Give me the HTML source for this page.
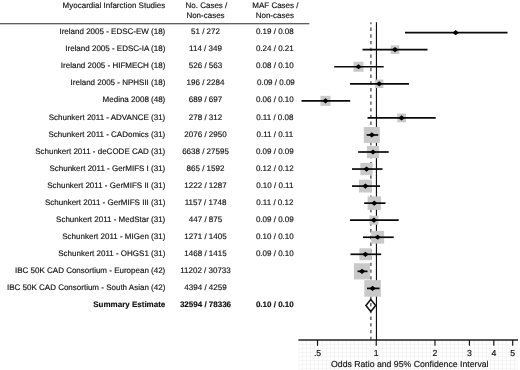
<!DOCTYPE html><html><head><meta charset="utf-8"><title>Forest plot</title>
<style>html,body{margin:0;padding:0;background:#fff;overflow:hidden}svg{display:block}text{font-family:"Liberation Sans",Arial,sans-serif;fill:#111;stroke:#111;stroke-width:0.15px;text-rendering:geometricPrecision}</style></head><body>
<svg width="520" height="370" viewBox="0 0 520 370">
<rect width="520" height="370" fill="#fff"/>
<g font-size="8.0">
<text x="165.3" y="8.3" text-anchor="end">Myocardial Infarction Studies</text>
<text x="206.4" y="8.3" text-anchor="middle">No. Cases /</text>
<text x="205.5" y="18.2" text-anchor="middle">Non-cases</text>
<text x="275.4" y="8.3" text-anchor="middle">MAF Cases /</text>
<text x="274.8" y="18.2" text-anchor="middle">Non-cases</text>
<text x="165.3" y="34.25" text-anchor="end">Ireland 2005 - EDSC-EW (18)</text>
<text x="205.5" y="34.25" text-anchor="middle">51 / 272</text>
<text x="274.8" y="34.25" text-anchor="middle">0.19 / 0.08</text>
<text x="165.3" y="51.30" text-anchor="end">Ireland 2005 - EDSC-IA (18)</text>
<text x="205.5" y="51.30" text-anchor="middle">114 / 349</text>
<text x="274.8" y="51.30" text-anchor="middle">0.24 / 0.21</text>
<text x="165.3" y="68.35" text-anchor="end">Ireland 2005 - HIFMECH (18)</text>
<text x="205.5" y="68.35" text-anchor="middle">526 / 563</text>
<text x="274.8" y="68.35" text-anchor="middle">0.08 / 0.10</text>
<text x="165.3" y="85.40" text-anchor="end">Ireland 2005 - NPHSII (18)</text>
<text x="205.5" y="85.40" text-anchor="middle">196 / 2284</text>
<text x="275.9" y="85.40" text-anchor="middle">0.09 / 0.09</text>
<text x="165.3" y="102.45" text-anchor="end">Medina 2008 (48)</text>
<text x="205.5" y="102.45" text-anchor="middle">689 / 697</text>
<text x="274.8" y="102.45" text-anchor="middle">0.06 / 0.10</text>
<text x="165.3" y="119.50" text-anchor="end">Schunkert 2011 - ADVANCE (31)</text>
<text x="205.5" y="119.50" text-anchor="middle">278 / 312</text>
<text x="274.8" y="119.50" text-anchor="middle">0.11 / 0.08</text>
<text x="165.3" y="136.55" text-anchor="end">Schunkert 2011 - CADomics (31)</text>
<text x="205.5" y="136.55" text-anchor="middle">2076 / 2950</text>
<text x="274.8" y="136.55" text-anchor="middle">0.11 / 0.11</text>
<text x="165.3" y="153.60" text-anchor="end">Schunkert 2011 - deCODE CAD (31)</text>
<text x="205.5" y="153.60" text-anchor="middle">6638 / 27595</text>
<text x="274.8" y="153.60" text-anchor="middle">0.09 / 0.09</text>
<text x="165.3" y="170.65" text-anchor="end">Schunkert 2011 - GerMIFS I (31)</text>
<text x="205.5" y="170.65" text-anchor="middle">865 / 1592</text>
<text x="274.8" y="170.65" text-anchor="middle">0.12 / 0.12</text>
<text x="165.3" y="187.70" text-anchor="end">Schunkert 2011 - GerMIFS II (31)</text>
<text x="205.5" y="187.70" text-anchor="middle">1222 / 1287</text>
<text x="274.8" y="187.70" text-anchor="middle">0.10 / 0.11</text>
<text x="165.3" y="204.75" text-anchor="end">Schunkert 2011 - GerMIFS III (31)</text>
<text x="205.5" y="204.75" text-anchor="middle">1157 / 1748</text>
<text x="274.8" y="204.75" text-anchor="middle">0.11 / 0.12</text>
<text x="165.3" y="221.80" text-anchor="end">Schunkert 2011 - MedStar (31)</text>
<text x="205.5" y="221.80" text-anchor="middle">447 / 875</text>
<text x="274.8" y="221.80" text-anchor="middle">0.09 / 0.09</text>
<text x="165.3" y="238.85" text-anchor="end">Schunkert 2011 - MIGen (31)</text>
<text x="205.5" y="238.85" text-anchor="middle">1271 / 1405</text>
<text x="274.8" y="238.85" text-anchor="middle">0.10 / 0.10</text>
<text x="165.3" y="255.90" text-anchor="end">Schunkert 2011 - OHGS1 (31)</text>
<text x="205.5" y="255.90" text-anchor="middle">1468 / 1415</text>
<text x="274.8" y="255.90" text-anchor="middle">0.09 / 0.10</text>
<text x="165.3" y="272.95" text-anchor="end">IBC 50K CAD Consortium - European (42)</text>
<text x="205.5" y="272.95" text-anchor="middle">11202 / 30733</text>
<text x="165.3" y="290.00" text-anchor="end">IBC 50K CAD Consortium - South Asian (42)</text>
<text x="205.5" y="290.00" text-anchor="middle">4394 / 4259</text>
<text x="165.3" y="307.05" text-anchor="end" font-weight="bold" stroke="none">Summary Estimate</text>
<text x="205.5" y="307.05" text-anchor="middle" font-weight="bold" stroke="none">32594 / 78336</text>
<text x="274.8" y="307.05" text-anchor="middle" font-weight="bold" stroke="none">0.10 / 0.10</text>
</g>
<line x1="0" y1="23.7" x2="309.3" y2="23.7" stroke="#2a2a2a" stroke-width="1.05"/>
<defs><pattern id="g" width="4" height="4" patternUnits="userSpaceOnUse" x="298" y="340"><rect width="4" height="4" fill="#fdfdfd"/><path d="M0 0.5H4M0.5 0V4" stroke="#f5f5f5" stroke-width="1" fill="none"/></pattern></defs>
<rect x="298.5" y="340" width="219.5" height="30" fill="url(#g)"/>
<line x1="298.4" y1="339.95" x2="518" y2="339.95" stroke="#222" stroke-width="1.5"/>
<line x1="376.45" y1="22.3" x2="376.45" y2="340" stroke="#111" stroke-width="1.15"/>
<line x1="370.9" y1="22.3" x2="370.9" y2="340" stroke="#3c3c3c" stroke-width="1.2" stroke-dasharray="3.4 3.32" stroke-dashoffset="1.5"/>
<rect x="454.45" y="31.40" width="2.5" height="2.5" fill="#c9c9c9"/>
<rect x="390.75" y="45.45" width="8.5" height="8.5" fill="#c9c9c9"/>
<rect x="353.50" y="61.75" width="10" height="10" fill="#c9c9c9"/>
<rect x="374.95" y="79.55" width="8.5" height="8.5" fill="#c9c9c9"/>
<rect x="320.50" y="95.85" width="10" height="10" fill="#c9c9c9"/>
<rect x="397.25" y="113.55" width="8.7" height="8.7" fill="#c9c9c9"/>
<rect x="363.80" y="126.95" width="16" height="16" fill="#c9c9c9"/>
<rect x="366.90" y="145.90" width="12.2" height="12.2" fill="#c9c9c9"/>
<rect x="360.35" y="162.90" width="12.3" height="12.3" fill="#c9c9c9"/>
<rect x="359.00" y="179.70" width="12.8" height="12.8" fill="#c9c9c9"/>
<rect x="367.60" y="196.45" width="13.4" height="13.4" fill="#c9c9c9"/>
<rect x="369.40" y="215.70" width="9" height="9" fill="#c9c9c9"/>
<rect x="371.30" y="230.85" width="12.8" height="12.8" fill="#c9c9c9"/>
<rect x="359.40" y="248.30" width="12" height="12" fill="#c9c9c9"/>
<rect x="353.90" y="263.25" width="16.2" height="16.2" fill="#c9c9c9"/>
<rect x="364.30" y="280.10" width="16.6" height="16.6" fill="#c9c9c9"/>
<line x1="405" y1="32.65" x2="507.5" y2="32.65" stroke="#0a0a0a" stroke-width="1.7"/>
<path d="M452.50 32.65L455.7 30.05L458.90 32.65L455.7 35.25Z" fill="#000"/>
<line x1="362.5" y1="49.70" x2="427.5" y2="49.70" stroke="#0a0a0a" stroke-width="1.7"/>
<path d="M391.80 49.70L395 47.10L398.20 49.70L395 52.30Z" fill="#000"/>
<line x1="334.2" y1="66.75" x2="383.7" y2="66.75" stroke="#0a0a0a" stroke-width="1.7"/>
<path d="M355.30 66.75L358.5 64.15L361.70 66.75L358.5 69.35Z" fill="#000"/>
<line x1="350" y1="83.80" x2="409" y2="83.80" stroke="#0a0a0a" stroke-width="1.7"/>
<path d="M376.00 83.80L379.2 81.20L382.40 83.80L379.2 86.40Z" fill="#000"/>
<line x1="301.5" y1="100.85" x2="350.2" y2="100.85" stroke="#0a0a0a" stroke-width="1.7"/>
<path d="M322.30 100.85L325.5 98.25L328.70 100.85L325.5 103.45Z" fill="#000"/>
<line x1="367.5" y1="117.90" x2="435.7" y2="117.90" stroke="#0a0a0a" stroke-width="1.7"/>
<path d="M398.40 117.90L401.6 115.30L404.80 117.90L401.6 120.50Z" fill="#000"/>
<line x1="366.6" y1="134.95" x2="378.2" y2="134.95" stroke="#0a0a0a" stroke-width="1.7"/>
<path d="M368.60 134.95L371.8 132.35L375.00 134.95L371.8 137.55Z" fill="#000"/>
<line x1="358.2" y1="152.00" x2="388.7" y2="152.00" stroke="#0a0a0a" stroke-width="1.7"/>
<path d="M369.80 152.00L373 149.40L376.20 152.00L373 154.60Z" fill="#000"/>
<line x1="352" y1="169.05" x2="382.5" y2="169.05" stroke="#0a0a0a" stroke-width="1.7"/>
<path d="M363.30 169.05L366.5 166.45L369.70 169.05L366.5 171.65Z" fill="#000"/>
<line x1="352" y1="186.10" x2="380" y2="186.10" stroke="#0a0a0a" stroke-width="1.7"/>
<path d="M362.20 186.10L365.4 183.50L368.60 186.10L365.4 188.70Z" fill="#000"/>
<line x1="364.2" y1="203.15" x2="385.5" y2="203.15" stroke="#0a0a0a" stroke-width="1.7"/>
<path d="M371.10 203.15L374.3 200.55L377.50 203.15L374.3 205.75Z" fill="#000"/>
<line x1="350" y1="220.20" x2="398.7" y2="220.20" stroke="#0a0a0a" stroke-width="1.7"/>
<path d="M370.70 220.20L373.9 217.60L377.10 220.20L373.9 222.80Z" fill="#000"/>
<line x1="363" y1="237.25" x2="393.7" y2="237.25" stroke="#0a0a0a" stroke-width="1.7"/>
<path d="M374.50 237.25L377.7 234.65L380.90 237.25L377.7 239.85Z" fill="#000"/>
<line x1="350.5" y1="254.30" x2="381.2" y2="254.30" stroke="#0a0a0a" stroke-width="1.7"/>
<path d="M362.20 254.30L365.4 251.70L368.60 254.30L365.4 256.90Z" fill="#000"/>
<line x1="357.5" y1="271.35" x2="367.5" y2="271.35" stroke="#0a0a0a" stroke-width="1.7"/>
<path d="M358.80 271.35L362 268.75L365.20 271.35L362 273.95Z" fill="#000"/>
<line x1="367" y1="288.40" x2="379.5" y2="288.40" stroke="#0a0a0a" stroke-width="1.7"/>
<path d="M369.40 288.40L372.6 285.80L375.80 288.40L372.6 291.00Z" fill="#000"/>
<path d="M365.9 305.55L370.8 299.55L375.7 305.55L370.8 311.55Z" fill="none" stroke="#111" stroke-width="1.5" stroke-linejoin="miter"/>
<g font-size="8.7">
<line x1="317.5" y1="340" x2="317.5" y2="345.8" stroke="#111" stroke-width="1.15"/>
<text x="317.5" y="355.7" text-anchor="middle">.5</text>
<line x1="376.25" y1="340" x2="376.25" y2="345.8" stroke="#111" stroke-width="1.15"/>
<text x="376.25" y="355.7" text-anchor="middle">1</text>
<line x1="435" y1="340" x2="435" y2="345.8" stroke="#111" stroke-width="1.15"/>
<text x="435" y="355.7" text-anchor="middle">2</text>
<line x1="469.4" y1="340" x2="469.4" y2="345.8" stroke="#111" stroke-width="1.15"/>
<text x="469.4" y="355.7" text-anchor="middle">3</text>
<line x1="493.8" y1="340" x2="493.8" y2="345.8" stroke="#111" stroke-width="1.15"/>
<text x="493.8" y="355.7" text-anchor="middle">4</text>
<line x1="512.7" y1="340" x2="512.7" y2="345.8" stroke="#111" stroke-width="1.15"/>
<text x="512.7" y="355.7" text-anchor="middle">5</text>
<text x="409.8" y="366.6" text-anchor="middle">Odds Ratio and 95% Confidence Interval</text>
</g>
</svg></body></html>
